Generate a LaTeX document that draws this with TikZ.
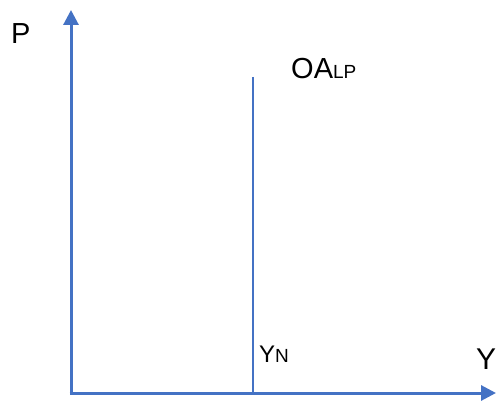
\documentclass[tikz,border=0pt]{standalone}
\usepackage{fontspec}
\setmainfont{Liberation Sans}
\usetikzlibrary{arrows.meta,calc,positioning}
\newcommand{\lowtxt}[1]{{\fontsize{19}{21}\selectfont #1}}

\begin{document}
\begin{tikzpicture}[
    x=1pt, y=-1pt,
    axis/.style={draw=axisblue,line width=3pt,-{Triangle[width=15pt,length=15pt]}},
    curve/.style={draw=axisblue,line width=2.6pt},
    lbl/.style={anchor=base west,inner sep=0pt,font=\fontsize{29}{31}\selectfont}
]
\definecolor{axisblue}{HTML}{4472C4}

% Frame
\useasboundingbox (0,0) rectangle (496,401);

% Axes
\coordinate (o) at (71,393);
\coordinate (ptop) at (71,10);
\coordinate (yend) at (496,393);

\draw[axis] (o) -- (ptop);
\draw[axis] ($(o)+(-1.5,0)$) -- (yend);

% Long run supply
\coordinate (lptop) at (253,77);
\coordinate (lpbot) at (253,393);
\draw[curve] (lptop) -- (lpbot);

% Labels
\node[lbl] (plab) at (11,44) {P};
\node[lbl] (ylab) at (476,369) {\fontsize{30}{32}\selectfont Y};
\node[lbl] (oalab) at (291,79) {OA\lowtxt{LP}};
\node[lbl] (ynlab) at (259,362) {\fontsize{24}{26}\selectfont Y\lowtxt{N}};

\end{tikzpicture}
\end{document}
